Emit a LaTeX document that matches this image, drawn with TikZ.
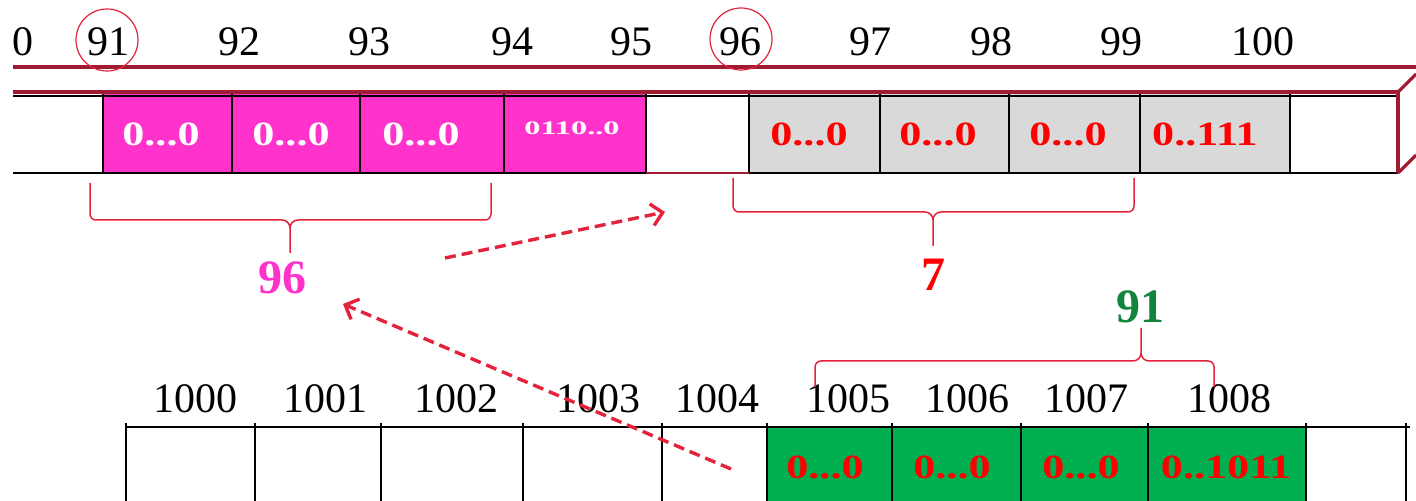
\documentclass[tikz,border=0pt]{standalone}
\usepackage{fontspec}
\setmainfont{Liberation Serif}
\newfontfamily\cellfont[FakeStretch=1.3]{Liberation Serif}
\newfontfamily\cellfontwide[FakeStretch=1.7]{Liberation Serif}
\usetikzlibrary{arrows.meta}

\definecolor{boxred}{HTML}{9E1B32}
\definecolor{cellmag}{HTML}{FF33CC}
\definecolor{cellgray}{HTML}{D9D9D9}
\definecolor{cellgreen}{HTML}{00B050}
\definecolor{markred}{HTML}{E3223C}
\definecolor{labgreen}{HTML}{13843C}

\tikzset{
  addr/.style={font=\fontsize{21}{21}\selectfont, inner sep=0pt, text=black},
  ring/.style={circle, draw=markred, line width=0.6pt, minimum size=31pt, inner sep=0pt},
  val/.style={font=\cellfont\bfseries\fontsize{17}{17}\selectfont, inner sep=0pt},
  count/.style={font=\bfseries\fontsize{24}{24}\selectfont, inner sep=0pt},
  divider/.style={black, line width=0.9pt},
  frame/.style={boxred, line width=1.6pt},
  bracket/.style={markred, line width=0.75pt},
  hop/.style={markred, line width=1.7pt, dash pattern=on 5.5pt off 3pt,
    -{Straight Barb[length=5.5pt, width=11pt, line width=1.7pt]}}
}

\begin{document}
\begin{tikzpicture}[x=0.5pt, y=-0.5pt]
\useasboundingbox (0,0) rectangle (1416,501);

% ---------- upper memory strip (3D bar) ----------
\fill[cellmag]  (103,93) rectangle (646,173);
\fill[cellgray] (749,93) rectangle (1290,173);
\draw[black, line width=0.9pt] (13,96) -- (1398,96);
\draw[black, line width=0.9pt] (13,173) -- (1398,173);
\foreach \x in {103,232,360,504,646,749,880,1009,1140,1290}
  \draw[divider] (\x,93) -- (\x,173);
\draw[frame] (13,67) -- (1416,67);
\draw[frame] (13,92) -- (1398,92) -- (1398,173);
\draw[frame] (1398,92) -- (1416,74);
\draw[frame] (1398,173) -- (1416,155);
\draw[frame, line width=1.2pt] (646,173) -- (749,173);

% addresses above the strip
\foreach \t/\x in {0/23,91/108,92/239,93/369,94/512,95/631,96/740,97/870,98/991,99/1121,100/1263}
  \node[addr] (a\t) at (\x,42) {\t};
\node[ring] (r91) at (107,40) {};
\node[ring] (r96) at (741,39) {};

% cell contents
\node[val, text=white] (m1) at (161,134) {0...0};
\node[val, text=white] (m2) at (291,134) {0...0};
\node[val, text=white] (m3) at (421,134) {0...0};
\node[font=\cellfontwide\bfseries\fontsize{9.5}{9.5}\selectfont, inner sep=0pt, text=white] (m4) at (572,128) {0110..0};
\node[val, text=red] (g1) at (809,134) {0...0};
\node[val, text=red] (g2) at (938,134) {0...0};
\node[val, text=red] (g3) at (1068,134) {0...0};
\node[val, text=red] (g4) at (1205,134) {0..111};

% brace under the magenta cells
\draw[bracket] (90,183) -- (90,214) to[out=-90,in=180] (96,220) -- (282,220)
  to[out=0,in=90] (290,228) -- (290,253);
\draw[bracket] (491,183) -- (491,214) to[out=-90,in=0] (485,220) -- (298,220)
  to[out=180,in=90] (290,228);
\node[count, text=cellmag] (n96) at (282,278) {96};

% brace under the grey cells
\draw[bracket] (733,178) -- (733,206) to[out=-90,in=180] (739,212) -- (925,212)
  to[out=0,in=90] (933,220) -- (933,246);
\draw[bracket] (1134,178) -- (1134,206) to[out=-90,in=0] (1128,212) -- (941,212)
  to[out=180,in=90] (933,220);
\node[count, text=red] (n7) at (933,275) {7};

% ---------- lower memory strip ----------
\fill[cellgreen] (767,427) rectangle (1306,501);
\draw[black, line width=0.9pt] (126,427) -- (1410,427);
\foreach \x in {126,255,381,523,662,767,892,1021,1148,1306,1406}
  \draw[divider] (\x,423) -- (\x,501);

\foreach \t/\x in {1000/195,1001/325,1002/456,1003/598,1004/717,1005/848,1006/967,1007/1086,1008/1229}
  \node[addr] (b\t) at (\x,399) {\t};

\node[val, text=red] (q1) at (825,467) {0...0};
\node[val, text=red] (q2) at (952,467) {0...0};
\node[val, text=red] (q3) at (1081,467) {0...0};
\node[val, text=red] (q4) at (1226,467) {0..1011};

% brace above the green cells
\draw[bracket] (815,387) -- (815,367) to[out=90,in=180] (821,361) -- (1133,361)
  to[out=0,in=-90] (1141,353) -- (1141,328);
\draw[bracket] (1214,387) -- (1214,367) to[out=90,in=0] (1208,361) -- (1149,361)
  to[out=180,in=-90] (1141,353);
\node[count, text=labgreen] (n91) at (1140,307) {91};

% dashed hops
\coordinate (h1s) at (445,258);
\coordinate (h1e) at (665,212);
\coordinate (h2s) at (731,469);
\coordinate (h2e) at (343,304);
\draw[hop] (h1s) -- (h1e);
\draw[hop] (h2s) -- (h2e);
\end{tikzpicture}
\end{document}
